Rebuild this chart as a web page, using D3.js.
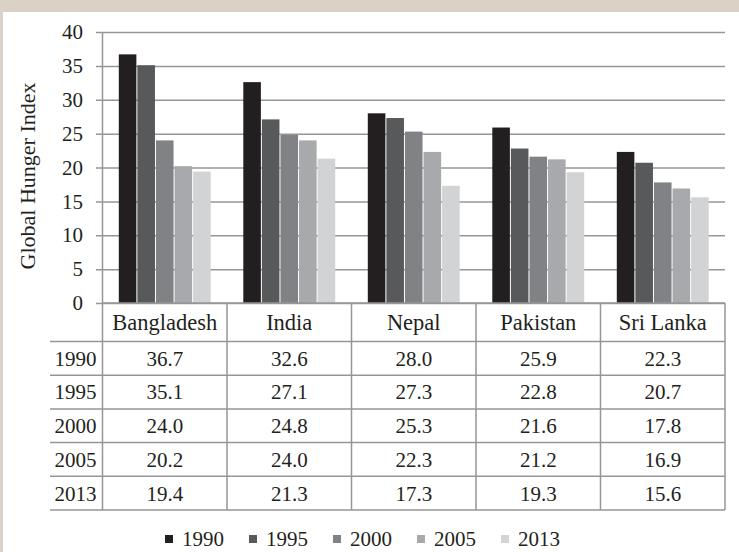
<!DOCTYPE html>
<html>
<head>
<meta charset="utf-8">
<script src="https://cdn.jsdelivr.net/npm/d3@7/dist/d3.min.js"></script>
<style>
  html, body { margin: 0; padding: 0; background: #ffffff; }
  svg { display: block; }
  text { font-family: "Liberation Serif", "DejaVu Serif", serif; fill: #231f20; }
</style>
</head>
<body>
<svg id="chart" width="739" height="552"></svg>
<script>
// Global Hunger Index by country and year
const countries = ["Bangladesh", "India", "Nepal", "Pakistan", "Sri Lanka"];
const years = ["1990", "1995", "2000", "2005", "2013"];
const ghi1990 = [36.7, 32.6, 28.0, 25.9, 22.3];
const ghi1995 = [35.1, 27.1, 27.3, 22.8, 20.7];
const ghi2000 = [24.0, 24.8, 25.3, 21.6, 17.8];
const ghi2005 = [20.2, 24.0, 22.3, 21.2, 16.9];
const ghi2013 = [19.4, 21.3, 17.3, 19.3, 15.6];
const yTicks = [0, 5, 10, 15, 20, 25, 30, 35, 40];
const yTitle = "Global Hunger Index";

const seriesByYear = { "1990": ghi1990, "1995": ghi1995, "2000": ghi2000, "2005": ghi2005, "2013": ghi2013 };
const colors = d3.scaleOrdinal()
  .domain(years)
  .range(["#231f20", "#58595b", "#808285", "#a7a9ac", "#d1d3d4"]);

const svg = d3.select("#chart");
const W = 739, H = 552;

// page frame: beige band on top and a thin strip at the left
svg.append("rect").attr("x", 0).attr("y", 0).attr("width", W).attr("height", H).attr("fill", "#ffffff");
svg.append("rect").attr("x", 0).attr("y", 0).attr("width", W).attr("height", 12).attr("fill", "#dcd1c7");
svg.append("rect").attr("x", 0).attr("y", 0).attr("width", 3).attr("height", H).attr("fill", "#dcd1c7");

const plot = { left: 102.5, right: 725, top: 32, bottom: 303 };
const table = { headerBottom: 341.5, bottom: 510, labelLeft: 50 };

const x0 = d3.scaleBand().domain(countries).range([plot.left, plot.right]).padding(0);
const x1 = d3.scaleBand().domain(years).range([0, x0.bandwidth()]).paddingInner(0).paddingOuter(0.85);
const y = d3.scaleLinear().domain([0, 40]).range([plot.bottom, plot.top]);

const lineColor = "#969696";
const numSize = 21;
const wordSize = 22.5;

// horizontal gridlines with tick stubs, as a left axis
const yAxis = d3.axisLeft(y).tickValues(yTicks).tickSize(-(plot.right - plot.left)).tickPadding(19.5).tickSizeOuter(0);
const gAxis = svg.append("g").attr("transform", `translate(${plot.left},0)`).call(yAxis);
gAxis.select(".domain").remove();
gAxis.selectAll(".tick line")
  .attr("x1", -6.5)
  .attr("stroke", lineColor)
  .attr("stroke-width", 1.5);
gAxis.selectAll(".tick text")
  .attr("font-size", numSize)
  .attr("fill", "#231f20");

// bars
const groups = svg.append("g").selectAll("g")
  .data(countries)
  .join("g")
  .attr("transform", d => `translate(${x0(d)},0)`);

groups.selectAll("rect")
  .data((c, i) => years.map(yr => ({ year: yr, value: seriesByYear[yr][i] })))
  .join("rect")
  .attr("x", d => x1(d.year) + 0.5)
  .attr("width", x1.bandwidth() - 1)
  .attr("y", d => y(d.value))
  .attr("height", d => y(0) - y(d.value))
  .attr("fill", d => colors(d.year));

// vertical axis line
svg.append("line")
  .attr("x1", plot.left).attr("x2", plot.left)
  .attr("y1", plot.top).attr("y2", table.bottom)
  .attr("stroke", lineColor).attr("stroke-width", 1.5);

// data table below the plot
const rowY = d3.scaleBand().domain(years).range([table.headerBottom, table.bottom]).padding(0);
const tbl = svg.append("g");

// horizontal rules
tbl.append("line")
  .attr("x1", plot.left).attr("x2", plot.right)
  .attr("y1", plot.bottom).attr("y2", plot.bottom)
  .attr("stroke", lineColor).attr("stroke-width", 1.5);
tbl.selectAll("line.row")
  .data(years)
  .join("line")
  .attr("class", "row")
  .attr("x1", table.labelLeft).attr("x2", plot.right)
  .attr("y1", d => rowY(d)).attr("y2", d => rowY(d))
  .attr("stroke", lineColor).attr("stroke-width", 1.5);
tbl.append("line")
  .attr("x1", table.labelLeft).attr("x2", plot.right)
  .attr("y1", table.bottom).attr("y2", table.bottom)
  .attr("stroke", lineColor).attr("stroke-width", 1.5);

// vertical rules between countries and at the right edge
tbl.selectAll("line.col")
  .data(countries)
  .join("line")
  .attr("class", "col")
  .attr("x1", d => x0(d) + x0.bandwidth()).attr("x2", d => x0(d) + x0.bandwidth())
  .attr("y1", plot.bottom).attr("y2", table.bottom)
  .attr("stroke", lineColor).attr("stroke-width", 1.5);

// country headers
tbl.selectAll("text.country")
  .data(countries)
  .join("text")
  .attr("class", "country")
  .attr("x", d => x0(d) + x0.bandwidth() / 2)
  .attr("y", (plot.bottom + table.headerBottom) / 2)
  .attr("dy", "0.35em")
  .attr("text-anchor", "middle")
  .attr("font-size", wordSize)
  .text(d => d);

// year labels
tbl.selectAll("text.year")
  .data(years)
  .join("text")
  .attr("class", "year")
  .attr("x", plot.left - 6)
  .attr("y", d => rowY(d) + rowY.bandwidth() / 2)
  .attr("dy", "0.35em")
  .attr("text-anchor", "end")
  .attr("font-size", numSize)
  .text(d => d);

// values
years.forEach(yr => {
  tbl.selectAll(null)
    .data(seriesByYear[yr].map((v, i) => ({ c: countries[i], v })))
    .join("text")
    .attr("x", d => x0(d.c) + x0.bandwidth() / 2)
    .attr("y", rowY(yr) + rowY.bandwidth() / 2)
    .attr("dy", "0.35em")
    .attr("text-anchor", "middle")
    .attr("font-size", numSize)
    .text(d => d3.format(".1f")(d.v));
});

// y-axis title
svg.append("text")
  .attr("transform", `translate(35,176) rotate(-90)`)
  .attr("text-anchor", "middle")
  .attr("font-size", 22)
  .text(yTitle);

// legend
const legendX = d3.scaleBand().domain(years).range([165, 165 + 84 * 5]);
const legend = svg.append("g").selectAll("g")
  .data(years)
  .join("g")
  .attr("transform", d => `translate(${legendX(d)},535)`);
legend.append("rect")
  .attr("width", 8).attr("height", 8)
  .attr("fill", d => colors(d));
legend.append("text")
  .attr("x", 17)
  .attr("y", 11)
  .attr("font-size", numSize)
  .text(d => d);
</script>
</body>
</html>
